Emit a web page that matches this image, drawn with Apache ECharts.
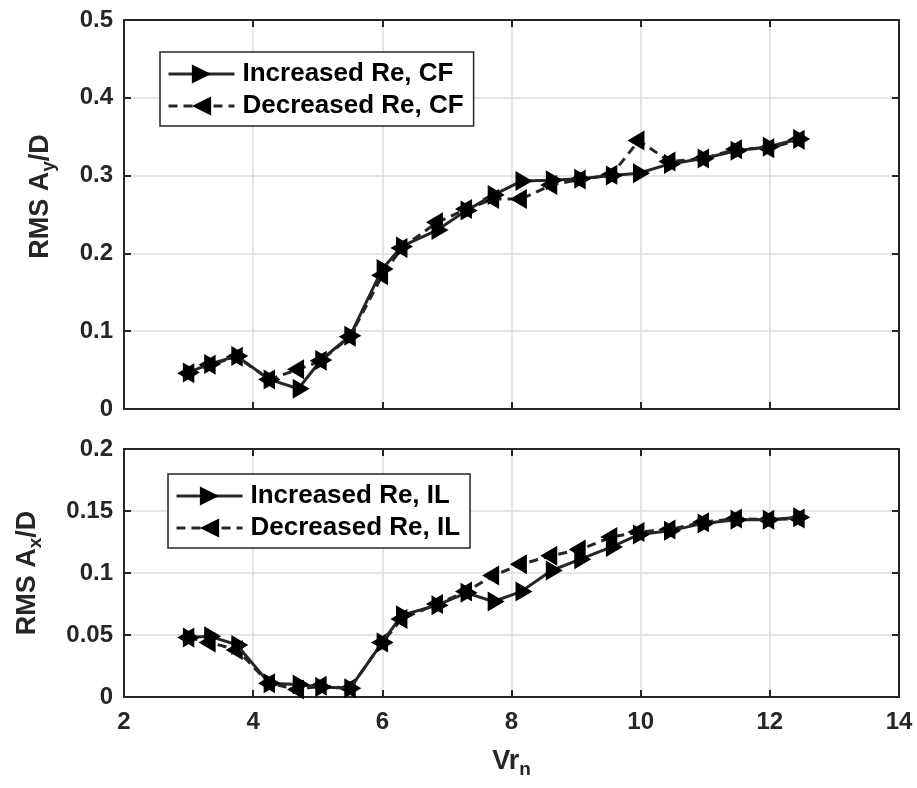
<!DOCTYPE html>
<html>
<head>
<meta charset="utf-8">
<script src="https://cdn.jsdelivr.net/npm/echarts@6/dist/echarts.min.js"></script>
<style>
  html, body { margin: 0; padding: 0; background: #fff; }
  #chart { width: 917px; height: 788px; }
</style>
</head>
<body>
<div id="chart"></div>
<script>
// reduced velocity, shared by all four series
const vrn = [3.0, 3.33, 3.75, 4.25, 4.7, 5.05, 5.5, 6.0, 6.3, 6.85, 7.3, 7.72, 8.15, 8.62, 9.06, 9.55, 9.97, 10.45, 10.97, 11.48, 11.98, 12.45]

// cross-flow (top panel)
const cfIncreased = [0.047, 0.058, 0.068, 0.038, 0.026, 0.063, 0.094, 0.180, 0.209, 0.230, 0.255, 0.275, 0.293, 0.294, 0.296, 0.300, 0.303, 0.315, 0.322, 0.332, 0.337, 0.347]
const cfDecreased = [0.046, 0.057, 0.067, 0.038, 0.051, 0.062, 0.093, 0.172, 0.207, 0.240, 0.257, 0.270, 0.270, 0.288, 0.295, 0.301, 0.345, 0.318, 0.322, 0.334, 0.335, 0.346]

// in-line (bottom panel)
const ilIncreased = [0.048, 0.049, 0.042, 0.011, 0.010, 0.008, 0.007, 0.044, 0.066, 0.074, 0.084, 0.077, 0.085, 0.102, 0.111, 0.121, 0.131, 0.134, 0.140, 0.143, 0.143, 0.145]
const ilDecreased = [0.048, 0.044, 0.038, 0.011, 0.006, 0.009, 0.007, 0.044, 0.063, 0.075, 0.085, 0.098, 0.107, 0.114, 0.119, 0.129, 0.133, 0.135, 0.141, 0.144, 0.143, 0.144]

const xTicks = [2, 4, 6, 8, 10, 12, 14]

const INK = '#262626'
const FONT = 'Liberation Sans'
const RIGHT_TRI = 'path://M0,0 L10,5 L0,10 Z'
const LEFT_TRI = 'path://M10,0 L0,5 L10,10 Z'

const pairs = ys => vrn.map((x, i) => [x, ys[i]])

const labelStyle = { color: INK, fontFamily: FONT, fontWeight: 'bold', fontSize: 24 }
const gridLine = { show: true, lineStyle: { color: '#dcdcdc', width: 1.5 } }
const nameStyle = {
  color: INK, fontFamily: FONT, fontWeight: 'bold', fontSize: 27,
  rich: { sub: { color: INK, fontFamily: FONT, fontWeight: 'bold', fontSize: 19, padding: [16, 0, 0, 0] } }
}

function xAxisFor(gridIndex, showLabels, position, name) {
  return {
    type: 'value', gridIndex, position,
    min: xTicks[0], max: xTicks[xTicks.length - 1], interval: 2,
    name: name || '', nameLocation: 'middle', nameGap: 47,
    nameTextStyle: nameStyle,
    axisLine: { show: true, onZero: false, lineStyle: { color: INK, width: 2 } },
    axisTick: { show: true, inside: true, length: 7, lineStyle: { color: INK, width: 2 } },
    axisLabel: Object.assign({ show: showLabels, margin: 13 }, labelStyle),
    splitLine: position === 'bottom' ? gridLine : { show: false }
  }
}

function yAxisFor(gridIndex, max, interval, position, name, nameGap, namePad) {
  return {
    type: 'value', gridIndex, position,
    min: 0, max, interval,
    name: name || '', nameLocation: 'middle', nameRotate: 90, nameGap: nameGap || 0,
    nameTextStyle: Object.assign({ padding: namePad || 0 }, nameStyle),
    axisLine: { show: true, onZero: false, lineStyle: { color: INK, width: 2 } },
    axisTick: { show: true, inside: true, length: 7, lineStyle: { color: INK, width: 2 } },
    axisLabel: Object.assign({ show: position === 'left', margin: 11 }, labelStyle),
    splitLine: position === 'left' ? gridLine : { show: false }
  }
}

function lineSeries(name, ys, axisIndex, dashed, symbol) {
  return {
    name, type: 'line', xAxisIndex: axisIndex, yAxisIndex: axisIndex,
    data: pairs(ys),
    symbol, symbolSize: [17, 20],
    // centre each triangle on its centroid so the pairs overlap as a star
    symbolOffset: [dashed ? -2.8 : 2.8, 0],
    itemStyle: { color: '#000' },
    lineStyle: { color: INK, width: 3, type: dashed ? [9, 6] : 'solid' },
    z: dashed ? 3 : 4
  }
}

function legendAt(left, top, names) {
  return {
    left, top, orient: 'vertical',
    data: names,
    itemWidth: 66, itemHeight: 24, itemGap: 0,
    padding: [6, 10, 4, 7],
    lineStyle: { width: 3, type: 'inherit', color: INK },
    borderColor: INK, borderWidth: 1.5, backgroundColor: '#fff',
    textStyle: { color: '#000', fontFamily: FONT, fontWeight: 'bold', fontSize: 26, lineHeight: 32, padding: [0, 0, 0, 3] }
  }
}

const chart = echarts.init(document.getElementById('chart'))
chart.setOption({
  animation: false,
  backgroundColor: '#fff',
  grid: [
    { left: 124, top: 20, width: 775, height: 389 },
    { left: 124, top: 449, width: 775, height: 248 }
  ],
  legend: [
    legendAt(160, 52, ['Increased Re, CF', 'Decreased Re, CF']),
    legendAt(168, 474, ['Increased Re, IL', 'Decreased Re, IL'])
  ],
  xAxis: [
    xAxisFor(0, false, 'bottom'),
    xAxisFor(1, true, 'bottom', 'Vr{sub|n}'),
    xAxisFor(0, false, 'top'),
    xAxisFor(1, false, 'top')
  ],
  yAxis: [
    yAxisFor(0, 0.5, 0.1, 'left', 'RMS A{sub|y}/D', 66, [0, 0, 0, 36]),
    yAxisFor(1, 0.2, 0.05, 'left', 'RMS A{sub|x}/D', 79),
    yAxisFor(0, 0.5, 0.1, 'right'),
    yAxisFor(1, 0.2, 0.05, 'right')
  ],
  series: [
    lineSeries('Increased Re, CF', cfIncreased, 0, false, RIGHT_TRI),
    lineSeries('Decreased Re, CF', cfDecreased, 0, true, LEFT_TRI),
    lineSeries('Increased Re, IL', ilIncreased, 1, false, RIGHT_TRI),
    lineSeries('Decreased Re, IL', ilDecreased, 1, true, LEFT_TRI)
  ]
})
</script>
</body>
</html>
